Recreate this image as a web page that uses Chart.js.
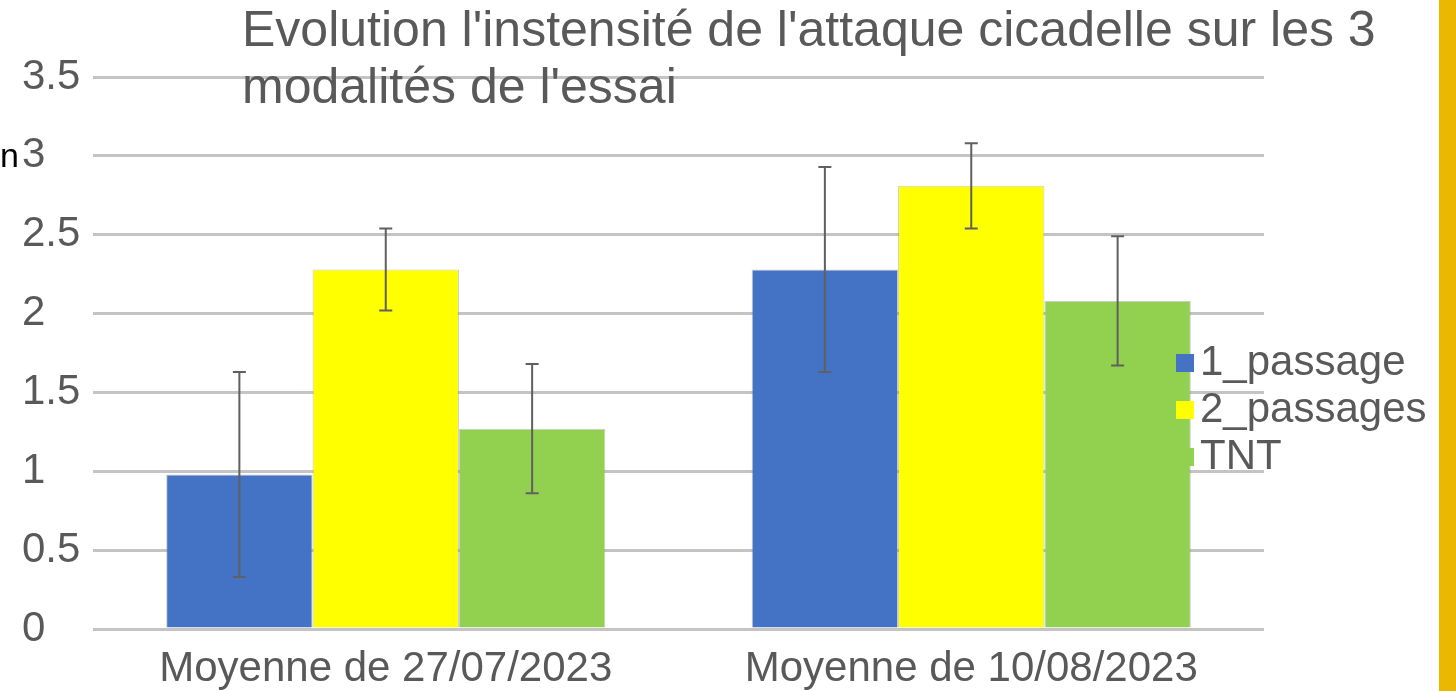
<!DOCTYPE html>
<html lang="fr">
<head>
<meta charset="utf-8">
<title>Cicadelle</title>
<script src="https://cdn.jsdelivr.net/npm/chart.js"></script>
<style>
  html, body { margin: 0; padding: 0; background: #fff; }
  canvas { display: block; }
</style>
</head>
<body>
<canvas id="chart" width="1456" height="691"></canvas>
<script>
  // chart data
  const categories = ['Moyenne de 27/07/2023', 'Moyenne de 10/08/2023'];
  const seriesNames = ['1_passage', '2_passages', 'TNT'];
  const passage1 = [0.98, 2.28];
  const passages2 = [2.28, 2.81];
  const tnt = [1.27, 2.08];
  const errPassage1 = [0.65, 0.65];
  const errPassages2 = [0.26, 0.27];
  const errTnt = [0.41, 0.41];
  const yTickLabels = ['0', '0.5', '1', '1.5', '2', '2.5', '3', '3.5'];
  const titleLines = ["Evolution l'instensité de l'attaque cicadelle sur les 3", "modalités de l'essai"];

  const colors = ['#4472C4', '#FFFF00', '#92D050'];
  const FONT = '"Liberation Sans", Arial, sans-serif';
  const GREY = '#595959';

  // error bars from each bar's position
  const errorBars = {
    id: 'errorBars',
    afterDatasetsDraw(chart) {
      const ctx = chart.ctx;
      const y = chart.scales.y;
      ctx.save();
      ctx.strokeStyle = '#606060';
      ctx.lineWidth = 2;
      chart.data.datasets.forEach((ds, i) => {
        chart.getDatasetMeta(i).data.forEach((bar, j) => {
          const top = y.getPixelForValue(ds.data[j] + ds.errors[j]);
          const bot = y.getPixelForValue(ds.data[j] - ds.errors[j]);
          ctx.beginPath();
          ctx.moveTo(bar.x, top);
          ctx.lineTo(bar.x, bot);
          ctx.moveTo(bar.x - 6.5, top);
          ctx.lineTo(bar.x + 6.5, top);
          ctx.moveTo(bar.x - 6.5, bot);
          ctx.lineTo(bar.x + 6.5, bot);
          ctx.stroke();
        });
      });
      ctx.restore();
    }
  };

  // title, legend and the other bits drawn over the chart
  const extras = {
    id: 'extras',
    afterDraw(chart) {
      const ctx = chart.ctx;
      ctx.save();

      // gold stripe on the right edge
      ctx.fillStyle = '#EBB700';
      ctx.fillRect(1439, 0, 17, 691);

      ctx.fillStyle = GREY;
      ctx.font = '50px ' + FONT;
      ctx.textAlign = 'left';
      ctx.textBaseline = 'alphabetic';
      ctx.fillText(titleLines[0], 242, 46);
      ctx.fillText(titleLines[1], 242, 103);

      // legend
      ctx.font = '42px ' + FONT;
      ctx.textBaseline = 'middle';
      const rows = [363, 410, 457];
      seriesNames.forEach((name, i) => {
        ctx.fillStyle = colors[i];
        ctx.fillRect(1176, rows[i] - 9, 18, 18);
        ctx.fillStyle = GREY;
        ctx.fillText(name, 1200, rows[i]);
      });

      // clipped leftover letter at the left edge
      ctx.fillStyle = '#000';
      ctx.font = '34px ' + FONT;
      ctx.textAlign = 'right';
      ctx.textBaseline = 'alphabetic';
      ctx.fillText('n', 19, 167);

      ctx.restore();
    }
  };

  const mkSet = (label, data, errors, i) => ({
    label: label,
    data: data,
    errors: errors,
    backgroundColor: colors[i],
    borderColor: 'rgba(140,140,140,0.45)',
    borderWidth: 1,
    categoryPercentage: 0.75,
    barPercentage: 1.0
  });

  new Chart(document.getElementById('chart'), {
    type: 'bar',
    data: {
      labels: categories,
      datasets: [
        mkSet(seriesNames[0], passage1, errPassage1, 0),
        mkSet(seriesNames[1], passages2, errPassages2, 1),
        mkSet(seriesNames[2], tnt, errTnt, 2)
      ]
    },
    options: {
      responsive: false,
      animation: false,
      devicePixelRatio: 1,
      layout: { padding: { left: 22, right: 192, top: 77, bottom: 0 } },
      plugins: {
        legend: { display: false },
        title: { display: false },
        tooltip: { enabled: false }
      },
      scales: {
        x: {
          grid: { display: false },
          border: { display: false },
          ticks: {
            color: GREY,
            font: { family: FONT, size: 42 },
            padding: 7,
            maxRotation: 0
          },
          afterFit(scale) { scale.height = 62; }
        },
        y: {
          min: 0,
          max: 3.5,
          grid: { color: '#c4c4c4', lineWidth: 3, drawTicks: false },
          border: { display: false },
          ticks: {
            stepSize: 0.5,
            color: GREY,
            crossAlign: 'far',
            padding: 8,
            font: { family: FONT, size: 42 },
            callback: (v) => yTickLabels[Math.round(v * 2)]
          },
          afterFit(scale) { scale.width = 71; }
        }
      }
    },
    plugins: [errorBars, extras]
  });
</script>
</body>
</html>
